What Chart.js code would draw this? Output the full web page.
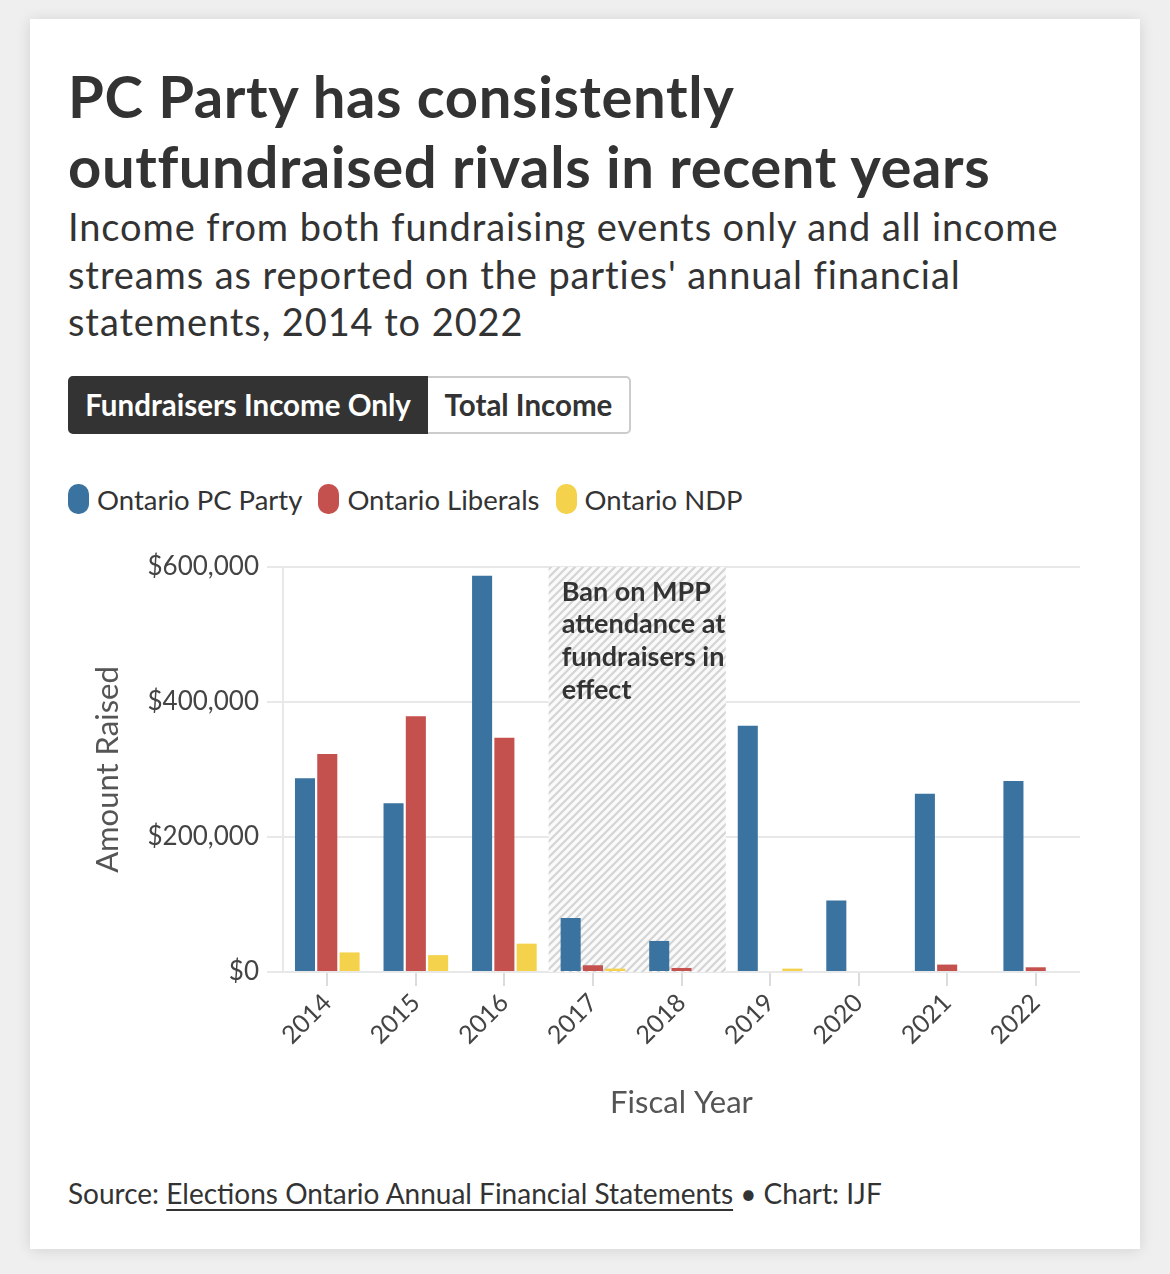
<!DOCTYPE html>
<html>
<head>
<meta charset="utf-8">
<script src="https://cdn.jsdelivr.net/npm/chart.js@4.4.1/dist/chart.umd.min.js"></script>
<style>
  html, body { margin: 0; padding: 0; background: #efefef; }
  body { width: 1170px; height: 1274px; position: relative; font-family: Lato, sans-serif; color: #333; }
  .card { position: absolute; left: 30px; top: 19px; width: 1110px; height: 1230px; background: #fff;
          box-shadow: 0 1px 14px rgba(0,0,0,0.12); }
  h1 { position: absolute; left: 38px; top: 42px; margin: 0; font-size: 58px; line-height: 70px; font-weight: 700;
       letter-spacing: 0.6px; color: #333; white-space: nowrap; }
  .sub { position: absolute; left: 38px; top: 184px; margin: 0; font-size: 38px; line-height: 47.5px; letter-spacing: 0.9px;
         color: #333; white-space: nowrap; }
  .tabs { position: absolute; left: 38px; top: 357px; display: flex; height: 58px; }
  .tab { box-sizing: border-box; height: 58px; line-height: 54px; font-size: 29.5px; font-weight: 700; }
  .tab.on { background: #333; color: #fff; border: 2px solid #333; border-radius: 5px 0 0 5px; width: 360px; text-align: center; }
  .tab.off { background: #fff; color: #333; border: 2px solid #ccc; border-left: none; border-radius: 0 5px 5px 0; width: 203px; text-align: center; }
  .legend { position: absolute; left: 38px; top: 465px; display: flex; height: 30px; align-items: center; font-size: 27.5px; color: #333; }
  .legend span.item { display: flex; align-items: center; margin-right: 16px; }
  .legend i { display: inline-block; width: 21px; height: 30px; border-radius: 10px; margin-right: 8px; }
  .chartbox { position: absolute; left: 38px; top: 511px; width: 1040px; height: 592px; }
  .src { position: absolute; left: 38px; top: 1159px; font-size: 28px; line-height: 30px; color: #333; white-space: nowrap; }
  .src u { text-decoration-thickness: 2px; text-underline-offset: 5px; }
</style>
</head>
<body>
<div class="card">
  <h1>PC Party has consistently<br>outfundraised rivals in recent years</h1>
  <p class="sub">Income from both fundraising events only and all income<br>streams as reported on the parties' annual financial<br>statements, 2014 to 2022</p>
  <div class="tabs"><div class="tab on">Fundraisers Income Only</div><div class="tab off">Total Income</div></div>
  <div class="legend" id="legend"></div>
  <div class="chartbox"><canvas id="chart" width="1040" height="592"></canvas></div>
  <div class="src">Source: <u>Elections Ontario Annual Financial Statements</u> • Chart: IJF</div>
</div>
<script>
"use strict";

// ── Data ──────────────────────────────────────────────────────────────
const years     = ['2014', '2015', '2016', '2017', '2018', '2019', '2020', '2021', '2022'];
const pcParty   = [287000, 250000, 587000, 80000, 46000, 365000, 106000, 264000, 283000];
const liberals  = [323000, 379000, 347000, 10000,  6000,      0,      0,  11000,   7000];
const ndp       = [ 29000,  25000,  42000,  5000,     0,   5000,      0,      0,      0];
const partyNames  = ['Ontario PC Party', 'Ontario Liberals', 'Ontario NDP'];
const partyColors = ['#3a72a0', '#c4514e', '#f5d24b'];
const banYears  = ['2017', '2018'];
const banNote   = ['Ban on MPP', 'attendance at', 'fundraisers in', 'effect'];

// ── Legend ────────────────────────────────────────────────────────────
const legend = document.getElementById('legend');
partyNames.forEach((name, i) => {
  const s = document.createElement('span');
  s.className = 'item';
  s.innerHTML = `<i style="background:${partyColors[i]}"></i>${name}`;
  legend.appendChild(s);
});

// ── Hatch pattern for the ban period ──────────────────────────────────
function makeHatch() {
  const t = document.createElement('canvas');
  t.width = 8; t.height = 8;
  const c = t.getContext('2d');
  c.fillStyle = '#fafafa';
  c.fillRect(0, 0, 8, 8);
  c.strokeStyle = '#d4d4d4';
  c.lineWidth = 2.2;
  c.beginPath();
  c.moveTo(0, 8); c.lineTo(8, 0);
  c.moveTo(-2, 2); c.lineTo(2, -2);
  c.moveTo(6, 10); c.lineTo(10, 6);
  c.stroke();
  return c.createPattern(t, 'repeat');
}

function banSpan(x) {
  const w = (x.right - x.left) / years.length;
  return [x.getPixelForValue(years.indexOf(banYears[0])) - w / 2,
          x.getPixelForValue(years.indexOf(banYears[banYears.length - 1])) + w / 2];
}

const banPlugin = {
  id: 'ban',
  beforeDatasetsDraw(chart) {
    const { ctx, chartArea: { top, bottom }, scales: { x } } = chart;
    const [x0, x1] = banSpan(x);
    ctx.save();
    ctx.fillStyle = makeHatch();
    ctx.fillRect(x0, top, x1 - x0, bottom - top);
    ctx.restore();
  },
  afterDatasetsDraw(chart) {
    const { ctx, chartArea: { top }, scales: { x } } = chart;
    const [x0] = banSpan(x);
    ctx.save();
    ctx.fillStyle = '#333';
    ctx.font = 'bold 27px Lato';
    ctx.textBaseline = 'middle';
    banNote.forEach((line, i) => ctx.fillText(line, x0 + 13, top + 25 + i * 32.7));
    ctx.restore();
  }
};

// ── Chart ─────────────────────────────────────────────────────────────
const series = [pcParty, liberals, ndp];
new Chart(document.getElementById('chart'), {
  type: 'bar',
  data: {
    labels: years,
    datasets: series.map((d, i) => ({
      label: partyNames[i],
      data: d,
      backgroundColor: partyColors[i],
      categoryPercentage: 0.755,
      barPercentage: 0.9,
    }))
  },
  options: {
    responsive: false,
    animation: false,
    devicePixelRatio: 1,
    layout: { padding: { top: 37, right: 28, left: 0, bottom: 0 } },
    plugins: { legend: { display: false }, tooltip: { enabled: false } },
    scales: {
      x: {
        grid: { drawOnChartArea: false, drawTicks: true, tickLength: 14, offset: false, color: '#dcdcdc', lineWidth: 2 },
        border: { display: false },
        ticks: { color: '#444', font: { family: 'Lato', size: 25 }, minRotation: 45, maxRotation: 45, padding: 2 },
        title: { display: true, text: 'Fiscal Year', color: '#555', font: { family: 'Lato', size: 31 }, padding: 0 },
        afterFit: s => { s.height = 150; }
      },
      y: {
        min: 0, max: 600000,
        ticks: { stepSize: 200000, color: '#444', font: { family: 'Lato', size: 26 }, padding: 8,
                 callback: v => '$' + v.toLocaleString('en-US') },
        grid: { color: '#e8e8e8', lineWidth: 2, tickLength: 16 },
        border: { display: true, color: '#e8e8e8', width: 2 },
        title: { display: true, text: 'Amount Raised', color: '#555', font: { family: 'Lato', size: 31 }, padding: { top: 21, bottom: 0 } },
        afterFit: s => { s.width = 215; }
      }
    }
  },
  plugins: [banPlugin]
});
</script>
</body>
</html>
